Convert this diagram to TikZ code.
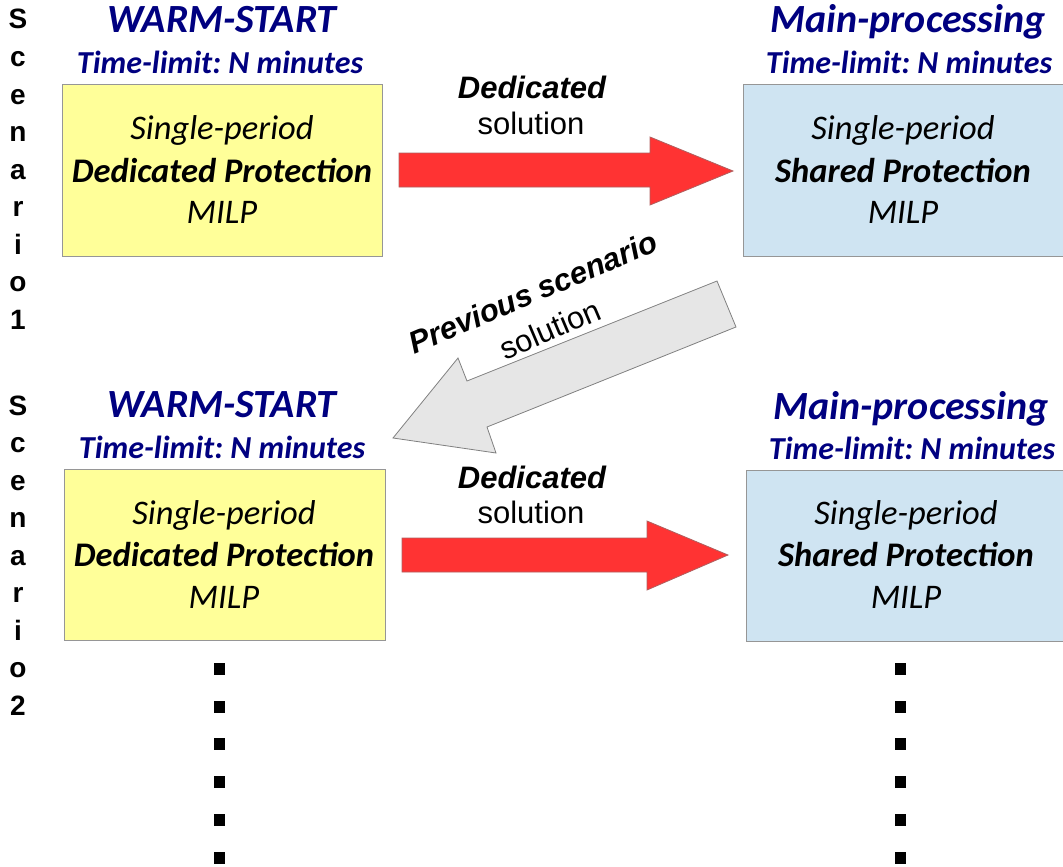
\documentclass[tikz,border=0pt]{standalone}
\usepackage{fontspec}
\setmainfont{Carlito}
\newfontfamily\arialfont{Liberation Sans}
\frenchspacing

\definecolor{titleblue}{RGB}{0,0,128}
\definecolor{warmfill}{RGB}{255,255,153}
\definecolor{mainfill}{RGB}{207,228,242}
\definecolor{boxline}{RGB}{150,150,150}
\definecolor{arrowred}{RGB}{255,51,51}
\definecolor{arrowredline}{RGB}{175,95,95}
\definecolor{arrowgray}{RGB}{230,230,230}
\definecolor{arrowgrayline}{RGB}{128,128,128}

\begin{document}
\begin{tikzpicture}[x=1pt,y=-1pt,
  stagebox/.style={draw=boxline, line width=1pt, inner sep=0pt},
  heading/.style={anchor=base, inner sep=0pt, text=titleblue,
    font=\fontsize{40}{43}\selectfont\bfseries\itshape},
  limit/.style={anchor=base, inner sep=0pt, text=titleblue,
    font=\fontsize{32}{35}\selectfont\bfseries\itshape},
  boxline/.style={anchor=base, inner sep=0pt,
    font=\fontsize{34.5}{37}\selectfont\itshape},
  boxbold/.style={anchor=base, inner sep=0pt,
    font=\fontsize{34.5}{37}\selectfont\bfseries\itshape},
  arrlabel/.style={anchor=base, inner sep=0pt,
    font=\arialfont\fontsize{31}{34}\selectfont},
  arrlabelbold/.style={anchor=base, inner sep=0pt,
    font=\arialfont\fontsize{31}{34}\selectfont\bfseries\itshape},
  vletter/.style={anchor=base, inner sep=0pt,
    font=\arialfont\fontsize{28}{30}\selectfont\bfseries},
  redarrow/.style={fill=arrowred, draw=arrowredline, line width=0.8pt, line join=miter},
  grayarrow/.style={fill=arrowgray, draw=arrowgrayline, line width=0.8pt, line join=miter},
  dotmark/.style={fill=black, draw=none, minimum width=11pt, minimum height=12pt, inner sep=0pt}
]
\useasboundingbox (0,0) rectangle (1063,867);

% ---------- vertical scenario labels ----------
\foreach \ch [count=\i from 0] in {S,c,e,n,a,r,i,o,1}
  \node[vletter] (sA\i) at (18,{29+37.5*\i}) {\ch};
\foreach \ch [count=\i from 0] in {S,c,e,n,a,r,i,o,2}
  \node[vletter] (sB\i) at (18,{415+37.5*\i}) {\ch};

% ---------- scenario 1 ----------
\node[heading] (warmA) at (222,33) {WARM-START};
\node[limit] (warmAlim) at (220,74) {Time-limit: N minutes};
\node[stagebox, fill=warmfill, minimum width=320pt, minimum height=171pt] (warmAbox) at (222,170.5) {};
\node[boxline] (warmA1) at (222,139) {Single-period};
\node[boxbold] (warmA2) at (222,182) {Dedicated Protection};
\node[boxline] (warmA3) at (222,223) {MILP};

\node[heading] (mainA) at (908,33) {Main-processing};
\node[limit] (mainAlim) at (909,74) {Time-limit: N minutes};
\node[stagebox, fill=mainfill, minimum width=330pt, minimum height=171pt] (mainAbox) at (908,170.5) {};
\node[boxline] (mainA1) at (903,139) {Single-period};
\node[boxbold] (mainA2) at (903,182) {Shared Protection};
\node[boxline] (mainA3) at (903,223) {MILP};

% dedicated solution handed over (scenario 1)
\draw[redarrow] (399,153) -- (650,153) -- (650,137) -- (733,171) -- (650,205) -- (650,187) -- (399,187) -- cycle;
\node[arrlabelbold] (dedA) at (532,99) {Dedicated};
\node[arrlabel] (solA) at (531,134) {solution};

% ---------- hand-over between scenarios ----------
\draw[grayarrow] (717,281) -- (736,327) -- (487,427) -- (496,453) -- (393,438) -- (458,358) -- (467,381) -- cycle;
\node[arrlabelbold, anchor=center, rotate=23] (prevA) at (533,292) {Previous scenario};
\node[arrlabel, anchor=center, rotate=23] (prevB) at (550,329) {solution};

% ---------- scenario 2 ----------
\node[heading] (warmB) at (222,417) {WARM-START};
\node[limit] (warmBlim) at (222,458) {Time-limit: N minutes};
\node[stagebox, fill=warmfill, minimum width=321pt, minimum height=171pt] (warmBbox) at (224.5,555) {};
\node[boxline] (warmB1) at (224,524) {Single-period};
\node[boxbold] (warmB2) at (224,566) {Dedicated Protection};
\node[boxline] (warmB3) at (224,608) {MILP};

\node[heading] (mainB) at (911,419) {Main-processing};
\node[limit] (mainBlim) at (912,459) {Time-limit: N minutes};
\node[stagebox, fill=mainfill, minimum width=330pt, minimum height=171pt] (mainBbox) at (911,555.5) {};
\node[boxline] (mainB1) at (906,524) {Single-period};
\node[boxbold] (mainB2) at (906,566) {Shared Protection};
\node[boxline] (mainB3) at (906,608) {MILP};

% dedicated solution handed over (scenario 2)
\draw[redarrow] (402,538) -- (647,538) -- (647,521) -- (728,555) -- (647,590) -- (647,572) -- (402,572) -- cycle;
\node[arrlabelbold] (dedB) at (532,488) {Dedicated};
\node[arrlabel] (solB) at (531,523) {solution};

% ---------- continuation dots ----------
\foreach \k in {0,...,5} {
  \node[dotmark] (dotL\k) at (219,{669+37.7*\k}) {};
  \node[dotmark] (dotR\k) at (900,{669+37.7*\k}) {};
}
\end{tikzpicture}
\end{document}
